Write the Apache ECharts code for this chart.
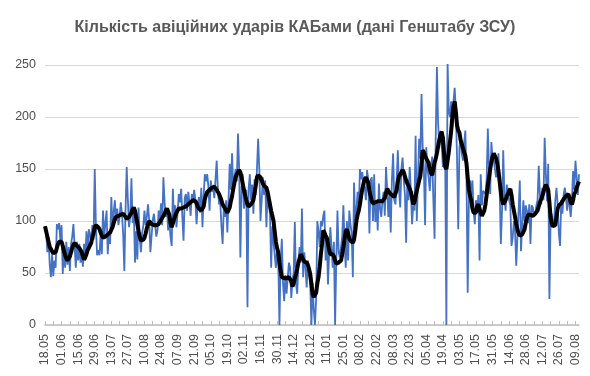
<!DOCTYPE html>
<html>
<head>
<meta charset="utf-8">
<script src="https://cdn.jsdelivr.net/npm/echarts@6/dist/echarts.min.js"></script>
<style>
  html, body { margin: 0; padding: 0; background: #fff; }
  #chart { width: 590px; height: 376px; }
</style>
</head>
<body>
<div id="chart"></div>
<script>
// підписи осі X (кожні 14 днів)
const tickLabels = ['18.05', '01.06', '15.06', '29.06', '13.07', '27.07', '10.08', '24.08', '07.09', '21.09',
  '05.10', '19.10', '02.11', '16.11', '30.11', '14.12', '28.12', '11.01', '25.01', '08.02',
  '22.02', '08.03', '22.03', '05.04', '19.04', '03.05', '17.05', '31.05', '14.06', '28.06',
  '12.07', '26.07', '09.08']

// щоденна кількість ударів КАБами
const strikes = [
  95, 88, 70, 84, 58, 46, 68, 47, 62, 55,
  97, 92, 98, 80, 96, 49, 75, 55, 80, 58,
  75, 52, 78, 85, 97, 96, 55, 80, 62, 78,
  60, 72, 56, 78, 62, 90, 70, 92, 88, 76,
  96, 82, 150, 95, 67, 72, 67, 88, 68, 110,
  84, 98, 110, 68, 90, 78, 123, 95, 108, 120,
  100, 112, 96, 104, 118, 107, 88, 52, 110, 152,
  120, 94, 105, 141, 98, 112, 60, 90, 63, 113,
  84, 70, 88, 95, 110, 96, 104, 116, 101, 70,
  70, 101, 107, 96, 85, 91, 110, 100, 117, 96,
  142, 118, 104, 112, 91, 100, 85, 76, 131, 100,
  115, 94, 108, 126, 118, 131, 104, 81, 122, 126,
  110, 128, 118, 105, 126, 118, 130, 120, 97, 115,
  123, 108, 132, 94, 125, 145, 138, 145, 133, 110,
  139, 128, 133, 122, 140, 158, 130, 116, 120, 95,
  78, 112, 104, 120, 89, 120, 155, 130, 165, 128,
  142, 150, 138, 184, 150, 65, 132, 145, 112, 120,
  130, 17, 132, 145, 120, 135, 107, 140, 125, 150,
  179, 150, 100, 120, 142, 125, 139, 94, 128, 115,
  107, 55, 95, 80, 79, 55, 75, 62, 0, 60,
  83, 40, 23, 48, 30, 45, 60, 55, 26, 42,
  50, 99, 40, 30, 58, 75, 60, 112, 46, 70,
  55, 36, 62, 48, 39, 0, 40, 15, 0, 25,
  100, 90, 75, 100, 95, 105, 110, 62, 85, 39,
  70, 94, 75, 55, 80, 0, 62, 110, 70, 65,
  65, 85, 115, 80, 55, 100, 62, 110, 97, 88,
  46, 137, 100, 110, 128, 112, 150, 140, 147, 130,
  133, 120, 149, 140, 88, 139, 142, 100, 145, 99,
  120, 91, 136, 112, 104, 120, 128, 105, 152, 130,
  104, 125, 89, 140, 165, 120, 116, 140, 168, 130,
  113, 150, 161, 140, 125, 79, 140, 120, 152, 130,
  97, 115, 110, 182, 100, 140, 179, 160, 222, 171,
  150, 96, 171, 150, 142, 129, 150, 162, 120, 83,
  180, 248, 195, 170, 185, 178, 152, 181, 160, 0,
  253, 205, 200, 215, 190, 215, 228, 206, 160, 92,
  170, 181, 165, 158, 175, 187, 140, 31, 120, 139,
  125, 139, 110, 97, 120, 108, 125, 62, 145, 115,
  129, 130, 126, 140, 189, 150, 126, 176, 160, 158,
  150, 142, 150, 165, 130, 78, 110, 168, 125, 110,
  135, 126, 120, 115, 76, 84, 100, 90, 57, 85,
  110, 139, 71, 95, 120, 100, 115, 110, 98, 116,
  78, 115, 113, 104, 107, 115, 120, 153, 125, 116,
  132, 120, 180, 145, 119, 155, 25, 100, 107, 95,
  100, 120, 132, 115, 88, 76, 120, 107, 125, 132,
  122, 110, 125, 115, 104, 120, 148, 130, 158, 142,
  125, 145
]

// ковзне середнє (чорна лінія)
const trend = [
  95, 90, 85, 80, 75, 73, 71, 69, 68, 70,
  74, 78, 80, 81, 80, 76, 71, 67, 64, 62,
  63, 66, 70, 74, 77, 79, 78, 76, 75, 74,
  73, 70, 66, 63, 65, 68, 72, 74, 75, 79,
  84, 88, 94, 96, 96, 94, 92, 89, 86, 84,
  84, 85, 86, 87, 88, 89, 90, 94, 98, 102,
  104, 105, 105, 106, 106, 107, 107, 106, 104, 102,
  103, 104, 105, 108, 111, 113, 110, 104, 97, 90,
  85, 81, 81, 82, 84, 88, 93, 97, 100, 99,
  97, 97, 96, 96, 96, 96, 97, 99, 101, 103,
  104, 107, 110, 112, 113, 106, 98, 94, 98, 102,
  105, 108, 110, 112, 112, 112, 113, 113, 113, 114,
  115, 116, 117, 118, 119, 120, 120, 119, 117, 114,
  112, 111, 110, 110, 114, 121, 125, 128, 129, 130,
  131, 132, 133, 133, 132, 130, 128, 126, 123, 120,
  116, 114, 113, 110, 108, 108, 113, 119, 124, 131,
  137, 142, 145, 147, 149, 147, 142, 136, 130, 125,
  120, 116, 114, 113, 116, 118, 120, 127, 134, 142,
  144, 144, 142, 139, 136, 134, 133, 132, 128, 122,
  116, 110, 105, 100, 90, 80, 74, 70, 60, 52,
  46, 45, 45, 45, 45, 46, 46, 46, 42, 37,
  40, 45, 49, 54, 60, 64, 68, 66, 63, 61,
  60, 60, 58, 54, 49, 40, 30, 27, 28, 31,
  40, 46, 56, 68, 78, 91, 89, 86, 84, 78,
  72, 68, 68, 68, 66, 62, 59, 59, 60, 60,
  62, 68, 75, 83, 90, 92, 88, 83, 81, 80,
  79, 82, 90, 100, 106, 110, 116, 124, 131, 136,
  140, 142, 141, 137, 129, 124, 119, 117, 117, 118,
  119, 119, 119, 119, 119, 119, 119, 122, 127, 131,
  129, 127, 126, 125, 124, 123, 123, 130, 138, 143,
  145, 147, 149, 147, 143, 139, 136, 134, 133, 128,
  122, 116, 118, 124, 129, 134, 139, 143, 155, 168,
  166, 163, 160, 158, 156, 150, 146, 144, 150, 156,
  160, 165, 172, 178, 183, 186, 180, 165, 152, 150,
  158, 166, 176, 186, 200, 210, 215, 205, 192, 187,
  185, 178, 174, 170, 166, 163, 155, 142, 130, 124,
  120, 112, 108, 107, 108, 114, 116, 112, 108, 105,
  105, 110, 116, 125, 134, 142, 150, 157, 162, 165,
  165, 160, 155, 148, 138, 128, 120, 116, 116, 120,
  124, 126, 129, 131, 125, 116, 110, 104, 97, 92,
  88, 86, 86, 87, 88, 92, 98, 103, 106, 107,
  106, 105, 105, 106, 107, 107, 110, 114, 118, 121,
  124, 128, 132, 135, 136, 130, 118, 104, 97, 95,
  94, 96, 104, 112, 115, 116, 117, 119, 121, 122,
  124, 125, 126, 122, 118, 116, 120, 126, 128, 132,
  135, 138
]

// номери днів як категорії
const days = strikes.map((v, i) => i)

const chart = echarts.init(document.getElementById('chart'))
const option = {
  animation: false,
  title: {
    text: 'Кількість авіційних ударів КАБами (дані Генштабу ЗСУ)',
    left: 'center',
    top: 15,
    textStyle: {
      fontFamily: 'Liberation Sans',
      fontSize: 16,
      fontWeight: 'bold',
      color: '#595959',
    },
  },
  grid: {
    left: 45,
    right: 11,
    top: 65,
    bottom: 51,
  },
  xAxis: {
    type: 'category',
    data: days,
    boundaryGap: false,
    axisLine: {
      lineStyle: { color: '#bfbfbf', width: 1.5 },
    },
    axisTick: {
      interval: 6,
      inside: true,
      length: 4,
      lineStyle: { color: '#bfbfbf' },
    },
    axisLabel: {
      interval: 13,
      rotate: 90,
      margin: 9,
      fontFamily: 'Liberation Sans',
      fontSize: 12.5,
      color: '#4d4d4d',
      formatter: (v, i) => tickLabels[i / 14] || '',
    },
    splitLine: { show: false },
  },
  yAxis: {
    type: 'value',
    min: 0,
    max: 250,
    interval: 50,
    axisLine: { show: false },
    axisTick: { show: false },
    axisLabel: {
      margin: 9,
      fontFamily: 'Liberation Sans',
      fontSize: 12.5,
      color: '#4d4d4d',
    },
    splitLine: {
      lineStyle: { color: '#d9d9d9', width: 1 },
    },
  },
  series: [
    {
      type: 'line',
      data: strikes,
      showSymbol: false,
      lineStyle: { color: '#4472c4', width: 1.8 },
    },
    {
      type: 'line',
      data: trend,
      showSymbol: false,
      lineStyle: { color: '#000', width: 4 },
    },
  ],
}
chart.setOption(option)
</script>
</body>
</html>
